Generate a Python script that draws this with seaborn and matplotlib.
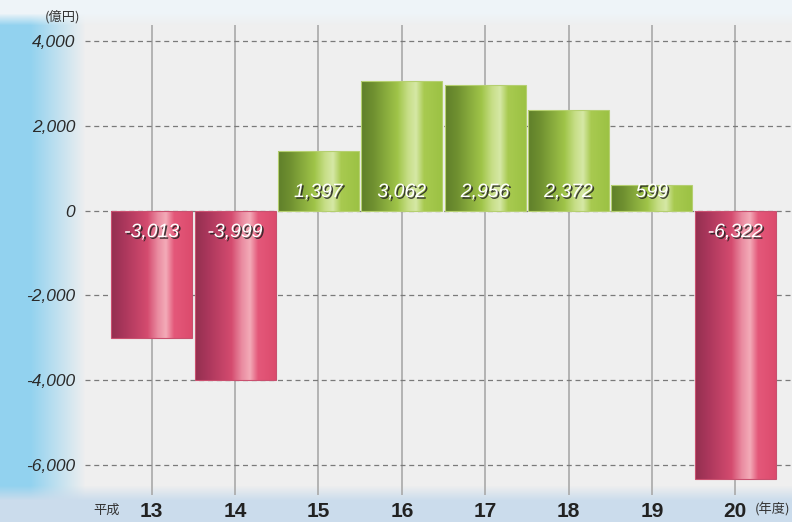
import numpy as np
import matplotlib
matplotlib.use("Agg")
import matplotlib.pyplot as plt
import matplotlib.patheffects as pe
from matplotlib.colors import LinearSegmentedColormap, to_rgb
import seaborn as sns

# data (億円, 平成13〜20年度)
years = ["13", "14", "15", "16", "17", "18", "19", "20"]
balance = [-3013, -3999, 1397, 3062, 2956, 2372, 599, -6322]
yticks = [4000, 2000, 0, -2000, -4000, -6000]

sns.set_theme(style="white")
plt.rcParams['font.family'] = ['Liberation Sans', 'Noto Sans CJK JP']

W, H = 792, 522
fig = plt.figure(figsize=(W / 100, H / 100), dpi=100)

# background: blue on the left fading into light gray
bg = fig.add_axes([0, 0, 1, 1], zorder=-10)
xs = np.arange(W)[None, :, None]
ys = np.arange(H)[:, None, None]
blue = np.array(to_rgb('#92d2ef'))
gray = np.array(to_rgb('#efefef'))
fade = np.clip((xs - 30) / 55.0, 0, 1)
img = blue * (1 - fade) + gray * fade
bottom = np.array(to_rgb('#cbdcec'))
fb = np.clip((ys - 485) / 15.0, 0, 1)
img = img * (1 - fb) + bottom * fb
top = np.array(to_rgb('#eef4f8'))
ft = np.clip((25 - ys) / 12.0, 0, 1)
img = img * (1 - ft) + top * ft
bg.imshow(np.clip(img, 0, 1), aspect='auto', extent=[0, 1, 0, 1])
bg.axis('off')

ax = fig.add_axes([85 / W, (H - 495) / H, (W - 85) / W, (495 - 25) / H])
ax.patch.set_alpha(0)

sns.barplot(x=years, y=balance, color='#999999', width=0.97, ax=ax, zorder=3)

red = LinearSegmentedColormap.from_list('r', [
    (0, '#93304f'), (0.15, '#a9365b'), (0.45, '#d44b6f'), (0.58, '#ea8ca1'),
    (0.68, '#f3abb8'), (0.78, '#e4587a'), (1, '#dc4b6d')])
green = LinearSegmentedColormap.from_list('g', [
    (0, '#5f7f2a'), (0.15, '#6f9030'), (0.45, '#9fc448'), (0.58, '#c6de86'),
    (0.68, '#d6e8a6'), (0.78, '#a8ca50'), (1, '#9cc244')])
grad = np.linspace(0, 1, 256)[None, :]

for bar, v in zip(ax.patches, balance):
    x0, y0 = bar.get_x(), bar.get_y()
    w, h = bar.get_width(), bar.get_height()
    cm = green if v > 0 else red
    bar.set_facecolor('none')
    bar.set_edgecolor('#b5cf70' if v > 0 else '#c9506f')
    bar.set_linewidth(0.8)
    im = ax.imshow(grad, cmap=cm, aspect='auto', zorder=2.9,
                   extent=[x0, x0 + w, min(y0, y0 + h), max(y0, y0 + h)])
    im.set_clip_path(bar)

for i, v in enumerate(balance):
    ax.text(i, 425 if v > 0 else -520, f"{v:,}", ha='center', va='center',
            color='white', fontsize=14, style='italic', fontweight='medium',
            zorder=5,
            path_effects=[pe.withSimplePatchShadow(offset=(1.2, -1.2),
                                                   shadow_rgbFace='#222222',
                                                   alpha=0.85)])

ax.set_xlim(-0.80, 7.68)
ax.set_ylim(-6708, 4377)
ax.set_yticks(yticks)
ax.set_yticklabels([f"{t:,}" for t in yticks])
ax.set_xlabel("")
ax.set_ylabel("")
ax.set_axisbelow(True)
ax.grid(axis='x', color='#a9a9a9', lw=1.2)
ax.grid(axis='y', color='#7a7a7a', lw=0.9, ls=(0, (4, 3)))
for s in ax.spines.values():
    s.set_visible(False)

ax.tick_params(axis='y', length=0, pad=7, labelsize=12.5, labelcolor='#2a2a2a')
for t in ax.get_yticklabels():
    t.set_style('italic')
ax.tick_params(axis='x', length=0, pad=5, labelsize=15, labelcolor='#222222')
for t in ax.get_xticklabels():
    t.set_fontweight('bold')

fig.text(107 / W, 1 - 510 / H, "平成", ha='center', va='center', fontsize=9.5,
         color='#333333', family=['Noto Sans CJK JP'])
fig.text(772 / W, 1 - 510 / H, "(年度)", ha='center', va='center', fontsize=9.5,
         color='#333333', family=['Noto Sans CJK JP'])
fig.text(62 / W, 1 - 17 / H, "(億円)", ha='center', va='center', fontsize=9.5,
         color='#333333', family=['Noto Sans CJK JP'])

fig.savefig("out.png", dpi=100)
